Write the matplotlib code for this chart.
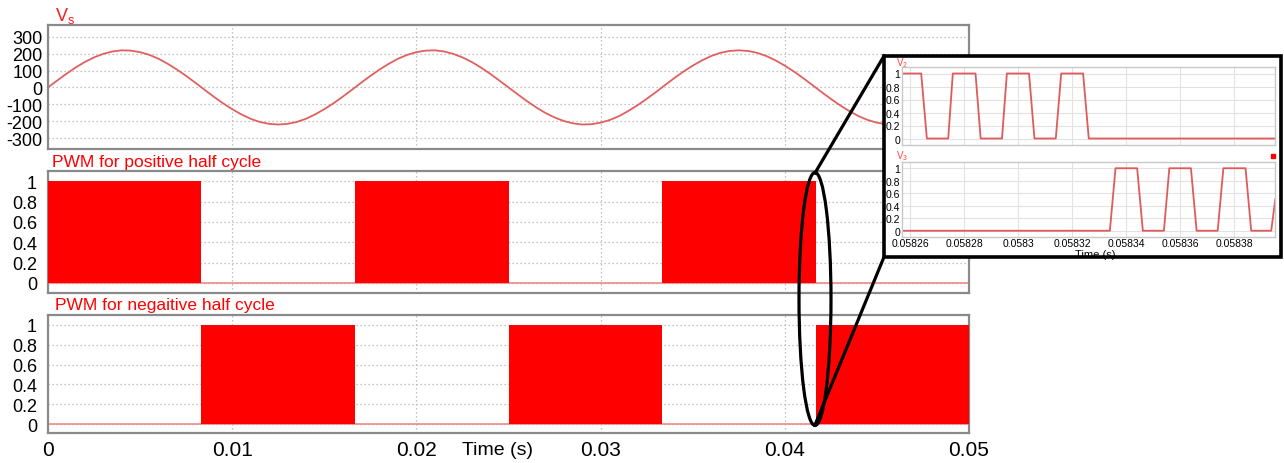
import matplotlib
matplotlib.use('Agg')
import matplotlib.pyplot as plt
from matplotlib.patches import Ellipse, Rectangle
from matplotlib.lines import Line2D

plt.rcParams['font.family'] = ['Liberation Sans', 'DejaVu Sans']
plt.rcParams['axes.unicode_minus'] = False

W, H = 1284, 464

# ---------------- data ----------------
vs_step = 0.0005
vs = [0, 41, 81, 118, 151, 178, 199, 213, 220, 218, 209, 193, 170, 140, 106, 68, 28,
      -14, -55, -94, -129, -160, -186, -205, -216, -220, -216, -205, -186, -160, -129, -94, -55,
      -14, 28, 68, 106, 140, 170, 193, 209, 218, 220, 213, 199, 178, 151, 118, 81, 41,
      0, -41, -81, -118, -151, -178, -199, -213, -220, -218, -209, -193, -170, -140, -106, -68, -28,
      14, 55, 94, 129, 160, 186, 205, 216, 220, 216, 205, 186, 160, 129, 94, 55,
      14, -28, -68, -106, -140, -170, -193, -209, -218, -220, -213, -199, -178, -151, -118, -81, -41, 0]
t_vs = [i * vs_step for i in range(len(vs))]

pos_starts = [0.0, 0.01667, 0.03333]
pos_ends = [0.00833, 0.025, 0.04167]
neg_starts = [0.00833, 0.025, 0.04167]
neg_ends = [0.01667, 0.03333, 0.05]

main_xticks = [0, 0.01, 0.02, 0.03, 0.04, 0.05]
main_xlabels = ['0', '0.01', '0.02', '0.03', '0.04', '0.05']
vs_yticks = [-300, -200, -100, 0, 100, 200, 300]
pwm_yticks = [0, 0.2, 0.4, 0.6, 0.8, 1]
pwm_ylabels = ['0', '0.2', '0.4', '0.6', '0.8', '1']

v2_t = [0.0582565, 0.0582641, 0.0582662, 0.0582741, 0.0582758, 0.0582842, 0.0582861,
        0.0582940, 0.0582958, 0.0583040, 0.0583060, 0.0583139, 0.0583159, 0.0583240,
        0.0583261, 0.0583951]
v2_y = [1, 1, 0, 0, 1, 1, 0, 0, 1, 1, 0, 0, 1, 1, 0, 0]
v3_t = [0.0582565, 0.0583339, 0.0583360, 0.0583440, 0.0583461, 0.0583539, 0.0583559,
        0.0583639, 0.0583660, 0.0583738, 0.0583759, 0.0583841, 0.0583862, 0.0583936,
        0.0583951]
v3_y = [0, 0, 1, 1, 0, 0, 1, 1, 0, 0, 1, 1, 0, 0, 0.5]
inset_xticks = [0.05826, 0.05828, 0.0583, 0.05832, 0.05834, 0.05836, 0.05838]
inset_xlabels = ['0.05826', '0.05828', '0.0583', '0.05832', '0.05834', '0.05836', '0.05838']

# ---------------- figure ----------------
fig = plt.figure(figsize=(W / 100, H / 100), dpi=100)
fig.patch.set_facecolor('white')


def px_axes(l, t, r, b, z=1):
    return fig.add_axes([l / W, 1 - b / H, (r - l) / W, (b - t) / H], zorder=z)


def style_main(ax):
    for s in ax.spines.values():
        s.set_color('#8a8a8a')
        s.set_linewidth(1.6)
    ax.set_xlim(0, 0.05)
    ax.set_xticks(main_xticks)
    ax.grid(True, color='#b0b0b0', linestyle=(0, (1, 2.2)), linewidth=0.9)
    ax.tick_params(length=0, pad=4, labelsize=13)
    ax.set_axisbelow(True)


ax1 = px_axes(48, 26, 969, 150)
ax1.plot(t_vs, vs, color='#e06060', lw=1.3)
style_main(ax1)
ax1.set_ylim(-365, 370)
ax1.set_yticks(vs_yticks)
ax1.set_xticklabels([])

ax2 = px_axes(48, 172, 969, 294)
ax2.axhline(0, color='#f08a8a', lw=1.2, zorder=2)
for s, e in zip(pos_starts, pos_ends):
    ax2.fill_between([s, e], [0, 0], [1, 1], color='#ff0000', lw=0, zorder=3)
style_main(ax2)
ax2.set_ylim(-0.1, 1.1)
ax2.set_yticks(pwm_yticks)
ax2.set_yticklabels(pwm_ylabels)
ax2.set_xticklabels([])
ax2.tick_params(axis='y', pad=8)

ax3 = px_axes(48, 316, 969, 434)
ax3.axhline(0, color='#f08a8a', lw=1.2, zorder=2)
for s, e in zip(neg_starts, neg_ends):
    ax3.fill_between([s, e], [0, 0], [1, 1], color='#ff0000', lw=0, zorder=3)
style_main(ax3)
ax3.set_ylim(-0.09, 1.1)
ax3.set_yticks(pwm_yticks)
ax3.set_yticklabels(pwm_ylabels)
ax3.set_xticklabels(main_xlabels)
ax3.tick_params(axis='y', pad=8)
ax3.tick_params(axis='x', labelsize=15, pad=5)

fig.text(55 / W, 1 - 21 / H, r'V$_\mathregular{s}$', color='#ff1a1a', fontsize=13, va='baseline')
fig.text(52 / W, 1 - 167 / H, 'PWM for positive half cycle', color='#ff0000', fontsize=12.5, va='baseline')
fig.text(55 / W, 1 - 310 / H, 'PWM for negaitive half cycle', color='#ff0000', fontsize=12.5, va='baseline')
fig.text(497 / W, 1 - 451 / H, 'Time (s)', fontsize=14, ha='center', va='center')

# ---------------- overlay: ellipse, connector lines, inset box ----------------
ov = fig.add_axes([0, 0, 1, 1], zorder=5)
ov.set_xlim(0, W)
ov.set_ylim(H, 0)
ov.axis('off')
ov.add_patch(Ellipse((815, 300), 32, 253, fill=False, ec='black', lw=2.3))
ov.add_line(Line2D([815, 884], [174, 57], color='black', lw=2.3))
ov.add_line(Line2D([815, 884], [426, 258], color='black', lw=2.3))
ov.add_patch(Rectangle((884, 57), 397, 201, fc='white', ec='black', lw=2.6))
ov.plot([1273], [157], marker='s', ms=2.5, color='#ff0000', ls='none')
ov.text(896, 66, r'V$_\mathregular{2}$', color='#ff4040', fontsize=7, va='baseline')
ov.text(896, 159, r'V$_\mathregular{3}$', color='#ff4040', fontsize=7, va='baseline')
ov.text(1095, 254.5, 'Time (s)', fontsize=8, ha='center', va='center')


def style_inset(ax):
    for s in ax.spines.values():
        s.set_color('#c8c8c8')
        s.set_linewidth(1.0)
    ax.set_xlim(0.058257, 0.058395)
    ax.set_ylim(-0.1, 1.1)
    ax.set_xticks(inset_xticks)
    ax.set_yticks(pwm_yticks)
    ax.set_yticklabels(pwm_ylabels)
    ax.grid(True, color='#e2e2e2', lw=0.8)
    ax.tick_params(length=0, pad=1.5, labelsize=7.5)
    ax.tick_params(axis='x', pad=1)
    ax.set_axisbelow(True)


ia = px_axes(902, 68, 1275, 146, z=6)
ia.plot(v2_t, v2_y, color='#e05a5a', lw=1.3)
style_inset(ia)
ia.set_xticklabels([])

ib = px_axes(902, 163, 1275, 238, z=6)
ib.plot(v3_t, v3_y, color='#e05a5a', lw=1.3)
style_inset(ib)
ib.set_xticklabels(inset_xlabels)

fig.savefig('out.png', dpi=100)
